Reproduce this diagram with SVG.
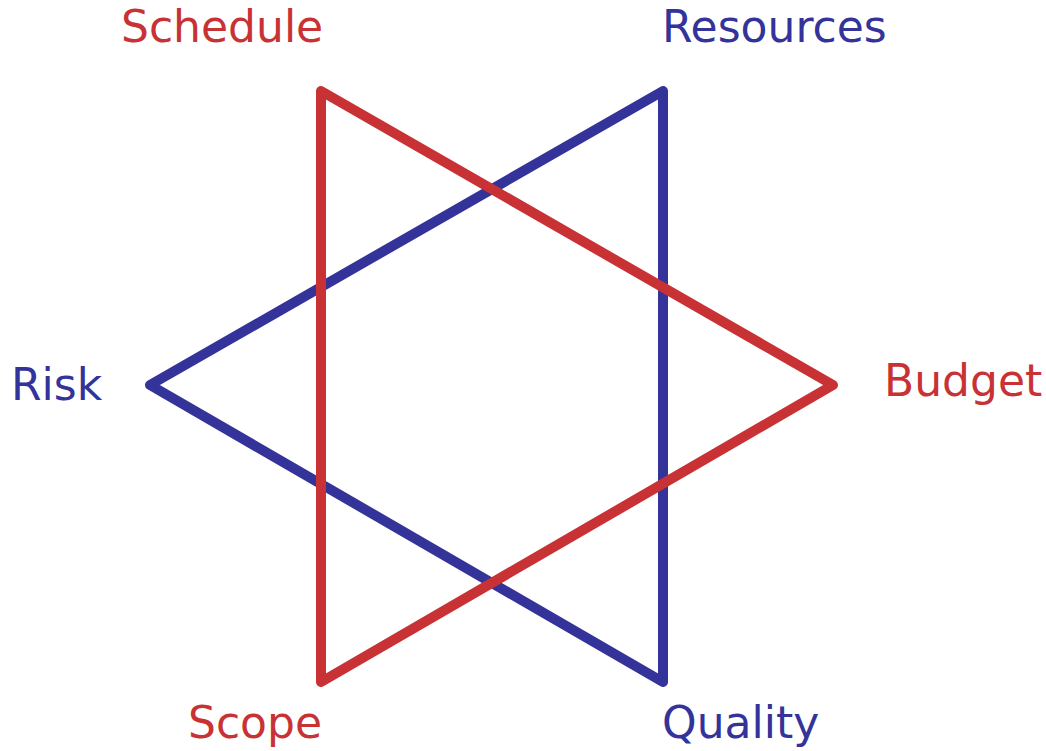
<svg xmlns="http://www.w3.org/2000/svg" width="1046" height="751" viewBox="0 0 1046 751">
  <style>
    .tri { fill: none; stroke-width: 10; stroke-linejoin: round; stroke-linecap: round; }
    .blue { stroke: #343399; }
    .red { stroke: #c83235; }
    .lbl { font-family: "DejaVu Sans", sans-serif; font-size: 44px; }
    .lbl-blue { fill: #343399; }
    .lbl-red { fill: #c83235; }
  </style>
  <rect width="1046" height="751" fill="#ffffff"/>
  <g id="connectors">
    <polygon class="tri blue" points="663,91 150,385 663,682"/>
    <polygon class="tri red" points="321,91 833,385 321,682"/>
  </g>
  <g id="schedule"><text class="lbl lbl-red" x="121" y="42">Schedule</text></g>
  <g id="resources"><text class="lbl lbl-blue" x="662" y="42">Resources</text></g>
  <g id="risk"><text class="lbl lbl-blue" x="11" y="400">Risk</text></g>
  <g id="budget"><text class="lbl lbl-red" x="884" y="396">Budget</text></g>
  <g id="scope"><text class="lbl lbl-red" x="188" y="738">Scope</text></g>
  <g id="quality"><text class="lbl lbl-blue" x="662" y="738">Quality</text></g>
</svg>
